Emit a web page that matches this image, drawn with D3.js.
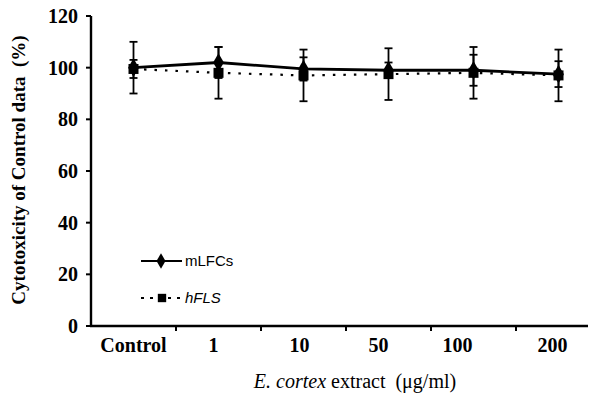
<!DOCTYPE html>
<html>
<head>
<meta charset="utf-8">
<script src="https://cdn.jsdelivr.net/npm/d3@7/dist/d3.min.js"></script>
<style>
  body { margin: 0; background: #fff; }
  svg { display: block; }
</style>
</head>
<body>
<svg id="chart" width="589" height="394"></svg>
<script>
// data
const categories = ['Control', '1', '10', '50', '100', '200'];
const mLFCs = [100, 102, 99.5, 99, 99, 97.5];
const mLFCsErr = [10, 6, 4.5, 3, 6, 5];
const hFLS = [99.5, 98, 97, 97.5, 98, 97];
const hFLSErr = [3.5, 10, 10, 10, 10, 10];
const yTicks = [0, 20, 40, 60, 80, 100, 120];

const svg = d3.select('#chart');
const plotLeft = 91, plotTop = 16, plotBottom = 326;
const serif = 'Liberation Serif, Times New Roman, serif';

const x = d3.scaleBand().domain(categories).range([plotLeft, plotLeft + 85 * 6]);
const y = d3.scaleLinear().domain([0, 120]).range([plotBottom, plotTop]);

// axes
const g = svg.append('g');
g.append('line')
  .attr('x1', plotLeft).attr('x2', plotLeft)
  .attr('y1', y(120)).attr('y2', plotBottom + 1)
  .attr('stroke', '#000').attr('stroke-width', 2.4);
g.append('line')
  .attr('x1', plotLeft - 1).attr('x2', 588)
  .attr('y1', plotBottom).attr('y2', plotBottom)
  .attr('stroke', '#000').attr('stroke-width', 2.4);

yTicks.forEach(t => {
  g.append('line')
    .attr('x1', plotLeft - 5).attr('x2', plotLeft)
    .attr('y1', y(t)).attr('y2', y(t))
    .attr('stroke', '#000').attr('stroke-width', 2);
  g.append('text')
    .attr('x', plotLeft - 13).attr('y', y(t))
    .attr('dy', '0.35em')
    .attr('text-anchor', 'end')
    .attr('font-family', serif)
    .attr('font-weight', 'bold')
    .attr('font-size', 20)
    .text(t);
});

// tick marks between categories
categories.slice(1).forEach(c => {
  const xx = x(c);
  g.append('line')
    .attr('x1', xx).attr('x2', xx)
    .attr('y1', plotBottom).attr('y2', plotBottom + 5)
    .attr('stroke', '#000').attr('stroke-width', 2);
});

const labelShift = [0, -5, -4, -10, -16, -6];
categories.forEach((c, i) => {
  g.append('text')
    .attr('x', x(c) + x.bandwidth() / 2 + labelShift[i])
    .attr('y', plotBottom + 26)
    .attr('text-anchor', 'middle')
    .attr('font-family', serif)
    .attr('font-weight', 'bold')
    .attr('font-size', 20)
    .text(c);
});

// axis titles
svg.append('text')
  .attr('transform', 'translate(25,170) rotate(-90)')
  .attr('text-anchor', 'middle')
  .attr('font-family', serif)
  .attr('font-weight', 'bold')
  .attr('font-size', 19)
  .attr('xml:space', 'preserve')
  .text('Cytotoxicity of Control data  (%)');

const xt = svg.append('text')
  .attr('x', 355).attr('y', 388)
  .attr('text-anchor', 'middle')
  .attr('font-family', serif)
  .attr('font-size', 20)
  .attr('xml:space', 'preserve');
xt.append('tspan').attr('font-style', 'italic').text('E. cortex');
xt.append('tspan').text(' extract  (\u03bcg/ml)');

const cx = d => x(d) + x.bandwidth() / 2;

// error bars
function errBars(vals, errs) {
  vals.forEach((v, i) => {
    const xx = cx(categories[i]);
    const eg = svg.append('g').attr('stroke', '#000').attr('stroke-width', 1.8);
    eg.append('line').attr('x1', xx).attr('x2', xx)
      .attr('y1', y(v + errs[i])).attr('y2', y(v - errs[i]));
    [v + errs[i], v - errs[i]].forEach(e => {
      eg.append('line').attr('x1', xx - 4).attr('x2', xx + 4)
        .attr('y1', y(e)).attr('y2', y(e));
    });
  });
}
errBars(hFLS, hFLSErr);
errBars(mLFCs, mLFCsErr);

const line = d3.line().x((d, i) => cx(categories[i])).y(d => y(d));

svg.append('path').datum(hFLS)
  .attr('d', line)
  .attr('fill', 'none').attr('stroke', '#000')
  .attr('stroke-width', 2.2).attr('stroke-dasharray', '2.5,8');

svg.append('path').datum(mLFCs)
  .attr('d', line)
  .attr('fill', 'none').attr('stroke', '#000').attr('stroke-width', 2.8);

const diamond = d3.symbol().type(d3.symbolDiamond).size(100);
const square = d3.symbol().type(d3.symbolSquare).size(100);

svg.selectAll('.sq').data(hFLS).join('path')
  .attr('transform', (d, i) => `translate(${cx(categories[i])},${y(d)})`)
  .attr('d', square).attr('fill', '#000');

svg.selectAll('.dm').data(mLFCs).join('path')
  .attr('transform', (d, i) => `translate(${cx(categories[i])},${y(d)})`)
  .attr('d', diamond).attr('fill', '#000');

// legend
const lg = svg.append('g');
lg.append('line').attr('x1', 141).attr('x2', 182).attr('y1', 261).attr('y2', 261)
  .attr('stroke', '#000').attr('stroke-width', 2.2);
lg.append('path').attr('transform', 'translate(161,261)')
  .attr('d', d3.symbol().type(d3.symbolDiamond).size(70)).attr('fill', '#000');
lg.append('text').attr('x', 185).attr('y', 261).attr('dy', '0.35em')
  .attr('font-family', 'Liberation Sans, Arial, sans-serif').attr('font-size', 15)
  .text('mLFCs');

lg.append('line').attr('x1', 141).attr('x2', 182).attr('y1', 298).attr('y2', 298)
  .attr('stroke', '#000').attr('stroke-width', 2).attr('stroke-dasharray', '3,6');
lg.append('path').attr('transform', 'translate(162,298)')
  .attr('d', d3.symbol().type(d3.symbolSquare).size(70)).attr('fill', '#000');
lg.append('text').attr('x', 185).attr('y', 298).attr('dy', '0.35em')
  .attr('font-family', 'Liberation Sans, Arial, sans-serif').attr('font-size', 15)
  .attr('font-style', 'italic')
  .text('hFLS');
</script>
</body>
</html>
